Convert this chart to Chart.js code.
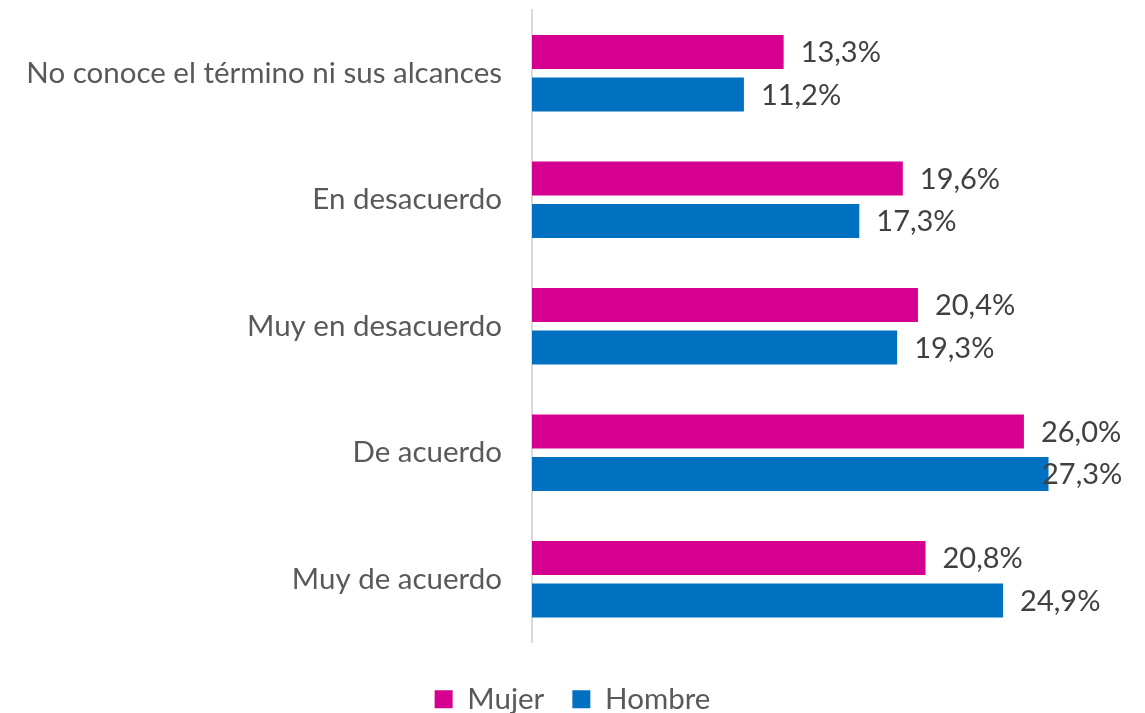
<!DOCTYPE html>
<html>
<head>
<meta charset="utf-8">
<script src="https://cdn.jsdelivr.net/npm/chart.js@4/dist/chart.umd.min.js"></script>
<style>
  html, body { margin: 0; padding: 0; background: #fff; }
  #wrap { width: 1145px; height: 713px; }
</style>
</head>
<body>
<div id="wrap"><canvas id="c" width="1145" height="713"></canvas></div>
<script>
// datos
var categorias = ['No conoce el término ni sus alcances', 'En desacuerdo', 'Muy en desacuerdo', 'De acuerdo', 'Muy de acuerdo'];
var mujer  = [13.3, 19.6, 20.4, 26.0, 20.8];
var hombre = [11.2, 17.3, 19.3, 27.3, 24.9];

var FONT = 'Lato, "Open Sans", sans-serif';

// etiquetas de valor al final de cada barra
var valueLabels = {
    id: 'valueLabels',
    afterDatasetsDraw: function (chart) {
        var ctx = chart.ctx;
        ctx.save();
        ctx.font = '29px ' + FONT;
        ctx.fillStyle = '#404040';
        ctx.textBaseline = 'middle';
        ctx.textAlign = 'left';
        chart.data.datasets.forEach(function (ds, i) {
            chart.getDatasetMeta(i).data.forEach(function (bar, j) {
                var txt = ds.data[j].toFixed(1).replace('.', ',') + '%';
                var x = Math.min(bar.x + 17, 1042);
                ctx.fillText(txt, x, bar.y + 1);
            });
        });
        ctx.restore();
    }
};

new Chart(document.getElementById('c'), {
    type: 'bar',
    data: {
        labels: categorias,
        datasets: [
            { label: 'Mujer',  data: mujer,  backgroundColor: '#D5008F' },
            { label: 'Hombre', data: hombre, backgroundColor: '#0070C0' }
        ]
    },
    options: {
        indexAxis: 'y',
        responsive: false,
        animation: false,
        categoryPercentage: 0.67,
        barPercentage: 0.8,
        layout: { padding: { top: 10, right: 0, left: 0, bottom: -11 } },
        plugins: {
            legend: {
                position: 'bottom',
                // título vacío solo para bajar la leyenda
                title: { display: true, text: '', font: { size: 10 }, padding: 1 },
                labels: {
                    boxWidth: 18, boxHeight: 18, padding: 28,
                    color: '#595959', font: { family: FONT, size: 29.5 }
                }
            },
            tooltip: { enabled: false }
        },
        scales: {
            // max ampliado para que el área llegue al borde derecho sin cambiar la escala
            x: { display: false, min: 0, max: 32.4 },
            y: {
                grid: { display: false, drawTicks: false },
                border: { display: true, color: '#D9D9D9', width: 2 },
                ticks: { color: '#595959', padding: 30, font: { family: FONT, size: 29.5 } },
                afterFit: function (s) { s.width = 532; s.paddingTop = 0; s.paddingBottom = 0; }
            }
        }
    },
    plugins: [valueLabels]
});
</script>
</body>
</html>
